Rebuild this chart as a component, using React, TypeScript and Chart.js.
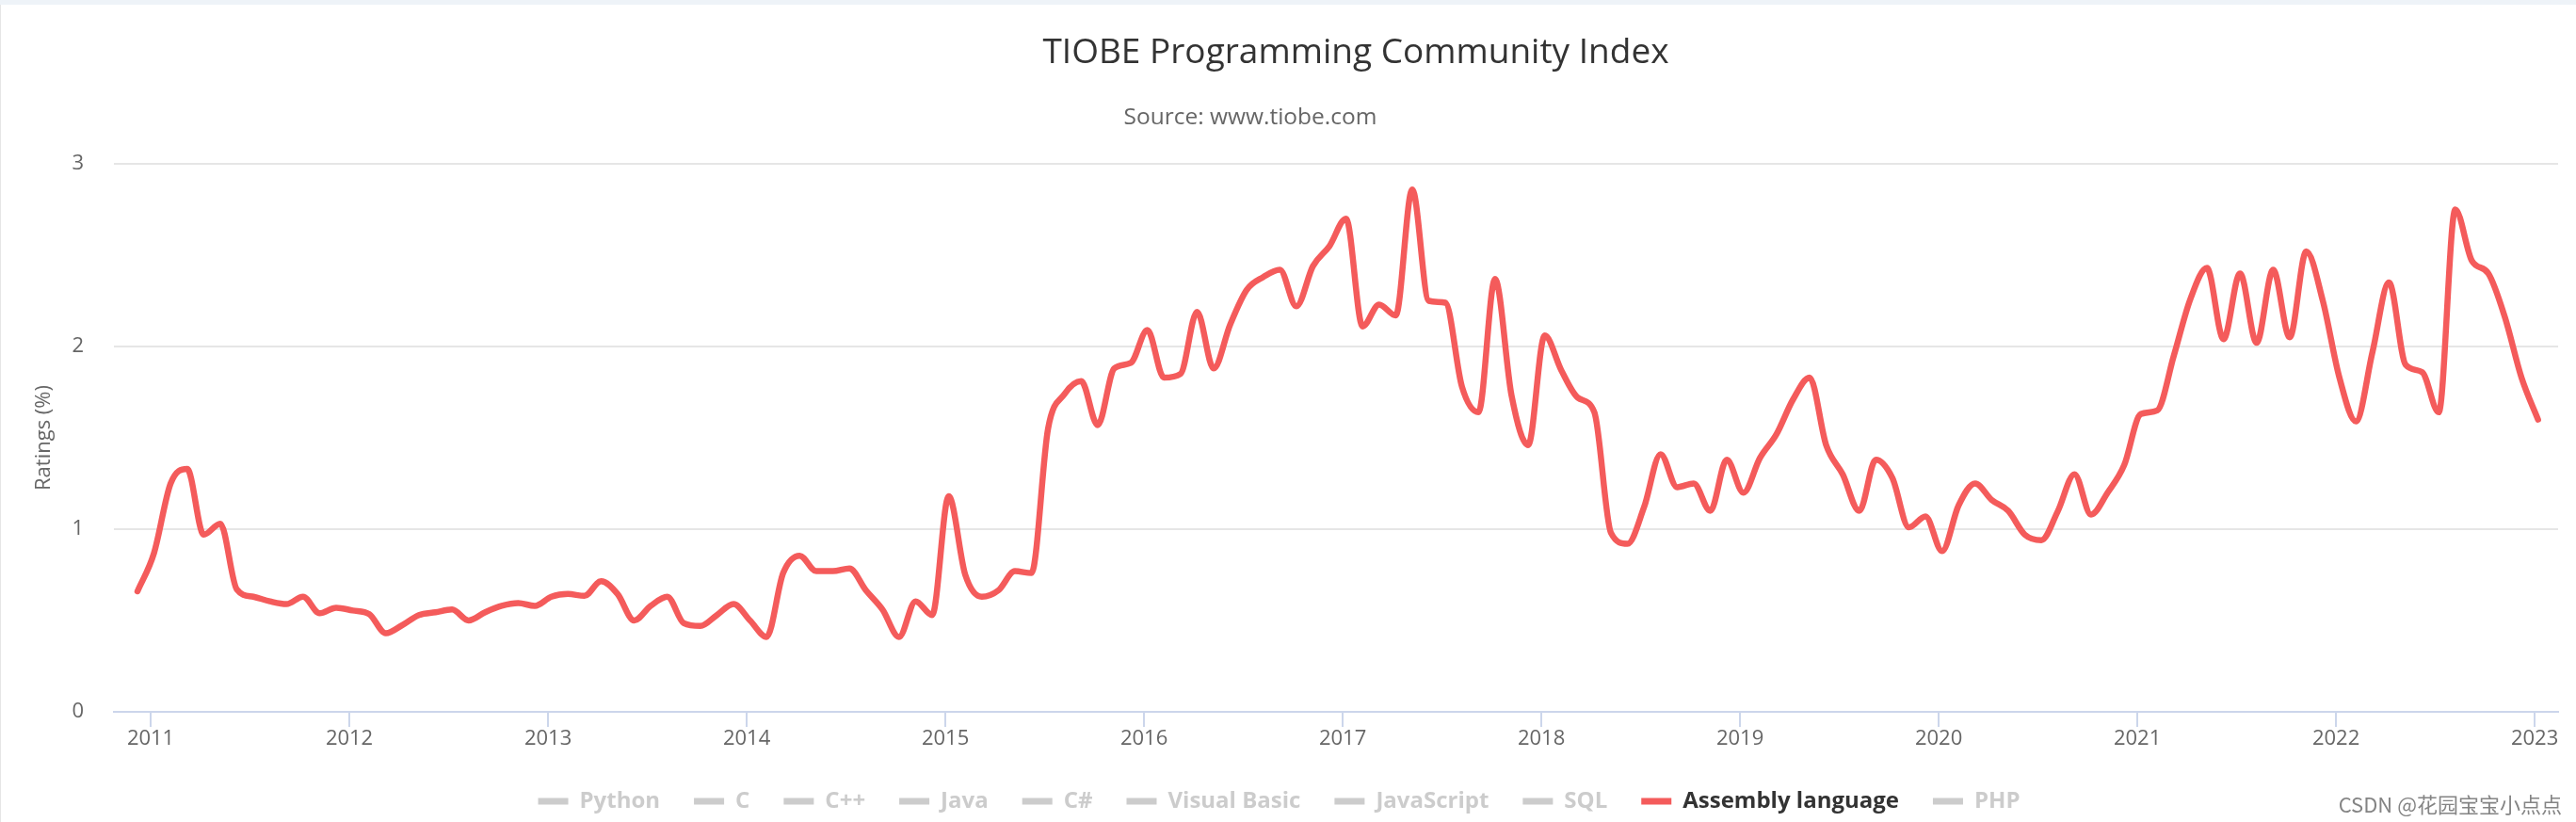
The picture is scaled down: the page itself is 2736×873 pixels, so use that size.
import { useEffect, useRef } from 'react';
import { Chart, registerables } from 'chart.js';

Chart.register(...registerables);

const TITLE = 'TIOBE Programming Community Index';
const SUBTITLE = 'Source: www.tiobe.com';
const Y_TITLE = 'Ratings (%)';
const WATERMARK = 'CSDN @花园宝宝小点点';

const LANGUAGES = ['Python', 'C', 'C++', 'Java', 'C#', 'Visual Basic', 'JavaScript', 'SQL', 'Assembly language', 'PHP'];
const SHOWN_LANGUAGE = 'Assembly language';

const YEAR_TICKS = [2011, 2012, 2013, 2014, 2015, 2016, 2017, 2018, 2019, 2020, 2021, 2022, 2023];
const Y_TICKS = [0, 1, 2, 3];

const MONTHS = [
  '2010-12',
  '2011-01', '2011-02', '2011-03', '2011-04', '2011-05', '2011-06', '2011-07', '2011-08', '2011-09', '2011-10', '2011-11', '2011-12',
  '2012-01', '2012-02', '2012-03', '2012-04', '2012-05', '2012-06', '2012-07', '2012-08', '2012-09', '2012-10', '2012-11', '2012-12',
  '2013-01', '2013-02', '2013-03', '2013-04', '2013-05', '2013-06', '2013-07', '2013-08', '2013-09', '2013-10', '2013-11', '2013-12',
  '2014-01', '2014-02', '2014-03', '2014-04', '2014-05', '2014-06', '2014-07', '2014-08', '2014-09', '2014-10', '2014-11', '2014-12',
  '2015-01', '2015-02', '2015-03', '2015-04', '2015-05', '2015-06', '2015-07', '2015-08', '2015-09', '2015-10', '2015-11', '2015-12',
  '2016-01', '2016-02', '2016-03', '2016-04', '2016-05', '2016-06', '2016-07', '2016-08', '2016-09', '2016-10', '2016-11', '2016-12',
  '2017-01', '2017-02', '2017-03', '2017-04', '2017-05', '2017-06', '2017-07', '2017-08', '2017-09', '2017-10', '2017-11', '2017-12',
  '2018-01', '2018-02', '2018-03', '2018-04', '2018-05', '2018-06', '2018-07', '2018-08', '2018-09', '2018-10', '2018-11', '2018-12',
  '2019-01', '2019-02', '2019-03', '2019-04', '2019-05', '2019-06', '2019-07', '2019-08', '2019-09', '2019-10', '2019-11', '2019-12',
  '2020-01', '2020-02', '2020-03', '2020-04', '2020-05', '2020-06', '2020-07', '2020-08', '2020-09', '2020-10', '2020-11', '2020-12',
  '2021-01', '2021-02', '2021-03', '2021-04', '2021-05', '2021-06', '2021-07', '2021-08', '2021-09', '2021-10', '2021-11', '2021-12',
  '2022-01', '2022-02', '2022-03', '2022-04', '2022-05', '2022-06', '2022-07', '2022-08', '2022-09', '2022-10', '2022-11', '2022-12',
  '2023-01',
];

const ASSEMBLY_RATINGS = [
  0.66,
  0.87, 1.25, 1.33, 0.97, 1.03, 0.67, 0.63, 0.605, 0.59, 0.63, 0.54, 0.57,
  0.555, 0.535, 0.43, 0.475, 0.53, 0.545, 0.56, 0.5, 0.545, 0.58, 0.595, 0.58,
  0.63, 0.645, 0.635, 0.715, 0.645, 0.5, 0.58, 0.63, 0.485, 0.47, 0.53, 0.59,
  0.5, 0.41, 0.76, 0.855, 0.77, 0.77, 0.785, 0.665, 0.56, 0.41, 0.605, 0.53,
  1.18, 0.75, 0.63, 0.665, 0.77, 0.76, 1.55, 1.74, 1.81, 1.57, 1.88, 1.91,
  2.09, 1.83, 1.85, 2.19, 1.88, 2.12, 2.31, 2.38, 2.42, 2.22, 2.44, 2.55,
  2.7, 2.11, 2.23, 2.17, 2.86, 2.25, 2.24, 1.78, 1.64, 2.37, 1.73, 1.46,
  2.06, 1.87, 1.72, 1.64, 0.98, 0.92, 1.12, 1.41, 1.23, 1.25, 1.1, 1.38,
  1.2, 1.39, 1.52, 1.71, 1.83, 1.46, 1.3, 1.1, 1.38, 1.28, 1.01, 1.07,
  0.88, 1.13, 1.25, 1.16, 1.1, 0.97, 0.94, 1.1, 1.3, 1.08, 1.2, 1.35,
  1.63, 1.65, 1.95, 2.26, 2.43, 2.04, 2.4, 2.02, 2.42, 2.05, 2.52, 2.25,
  1.83, 1.59, 1.97, 2.35, 1.9, 1.86, 1.64, 2.75, 2.47, 2.4, 2.16, 1.83,
  1.6,
];

const FONT = '"Open Sans", "DejaVu Sans", sans-serif';
const RED = '#f45b5b';
const GREY = '#cccccc';

// month string -> fractional year (points dated early in each month)
const monthToYear = (s: string) => {
  const [y, m] = s.split('-').map(Number);
  return y + (m - 1) / 12 + 0.017;
};

const headerPlugin = {
  id: 'headerText',
  afterDraw(chart: any) {
    const { ctx } = chart;
    ctx.save();
    ctx.textBaseline = 'alphabetic';
    ctx.textAlign = 'center';
    ctx.fillStyle = '#333333';
    ctx.font = `37px ${FONT}`;
    ctx.fillText(TITLE, 1440, 67);
    ctx.fillStyle = '#666666';
    ctx.font = `24.5px ${FONT}`;
    ctx.fillText(SUBTITLE, 1328, 132);
    ctx.textAlign = 'right';
    ctx.fillStyle = 'rgba(110,110,110,0.85)';
    ctx.font = `22px "Noto Sans CJK SC", ${FONT}`;
    ctx.fillText(WATERMARK, 2721, 863);
    ctx.restore();
  },
};

export default function App() {
  const canvasRef = useRef<HTMLCanvasElement | null>(null);

  useEffect(() => {
    const canvas = canvasRef.current;
    if (!canvas) return;

    const datasets = LANGUAGES.map((lang) => {
      const shown = lang === SHOWN_LANGUAGE;
      return {
        label: lang,
        hidden: !shown,
        data: shown ? MONTHS.map((m, i) => ({ x: monthToYear(m), y: ASSEMBLY_RATINGS[i] })) : [],
        borderColor: shown ? RED : GREY,
        backgroundColor: shown ? RED : GREY,
        borderWidth: 6.5,
        pointRadius: 0,
        pointHoverRadius: 0,
        cubicInterpolationMode: 'monotone' as const,
        borderCapStyle: 'round' as const,
        borderJoinStyle: 'round' as const,
        fill: false,
      };
    });

    const chart = new Chart(canvas, {
      type: 'line',
      data: { datasets },
      plugins: [headerPlugin],
      options: {
        responsive: false,
        animation: false,
        devicePixelRatio: 1,
        layout: { padding: { left: 0, right: 19, top: 174, bottom: 0 } },
        plugins: {
          title: { display: false },
          tooltip: { enabled: false },
          legend: {
            position: 'bottom',
            maxHeight: 70,
            onClick: () => {},
            labels: {
              boxWidth: 32,
              boxHeight: 7,
              padding: 36,
              font: { family: FONT, size: 24, weight: 'bold' },
              generateLabels: (c: any) =>
                c.data.datasets.map((ds: any, i: number) => {
                  const on = !ds.hidden;
                  return {
                    text: ds.label,
                    fillStyle: on ? RED : GREY,
                    strokeStyle: on ? RED : GREY,
                    lineWidth: 0,
                    hidden: false,
                    fontColor: on ? '#333333' : GREY,
                    datasetIndex: i,
                  };
                }),
            },
          },
        },
        scales: {
          x: {
            type: 'linear',
            min: 2010.815,
            max: 2023.118,
            afterBuildTicks: (s: any) => {
              s.ticks = YEAR_TICKS.map((v) => ({ value: v }));
            },
            afterFit: (s: any) => {
              s.height = 47;
            },
            ticks: {
              autoSkip: false,
              maxRotation: 0,
              padding: 0,
              color: '#666666',
              font: { family: FONT, size: 22 },
              callback: (v: any) => String(v),
            },
            grid: {
              drawOnChartArea: false,
              drawTicks: true,
              tickLength: 16,
              color: '#ccd6eb',
              lineWidth: 2,
            },
            border: { display: true, color: '#ccd6eb', width: 2 },
          },
          y: {
            min: 0,
            max: 3,
            afterBuildTicks: (s: any) => {
              s.ticks = Y_TICKS.map((v) => ({ value: v }));
            },
            afterFit: (s: any) => {
              s.width = 121;
            },
            ticks: {
              padding: 32,
              color: '#666666',
              font: { family: FONT, size: 22 },
              callback: (v: any) => String(v),
            },
            grid: {
              drawTicks: false,
              lineWidth: 2,
              color: (ctx: any) => (ctx.tick && ctx.tick.value === 0 ? 'rgba(0,0,0,0)' : '#e6e6e6'),
            },
            border: { display: false },
            title: {
              display: true,
              text: Y_TITLE,
              color: '#666666',
              padding: { top: 34, bottom: 4 },
              font: { family: FONT, size: 22 },
            },
          },
        },
      },
    });

    return () => chart.destroy();
  }, []);

  return (
    <div
      style={{
        position: 'fixed',
        left: 0,
        top: 0,
        width: 2736,
        height: 873,
        background: '#ffffff',
        overflow: 'hidden',
      }}
    >
      <div style={{ position: 'absolute', left: 0, top: 0, width: 2736, height: 5, background: '#eef3f8' }} />
      <div style={{ position: 'absolute', left: 0, top: 5, width: 1, height: 868, background: '#e6e6e6' }} />
      <canvas
        ref={canvasRef}
        width={2736}
        height={873}
        style={{ position: 'absolute', left: 0, top: 0, display: 'block' }}
      />
    </div>
  );
}
